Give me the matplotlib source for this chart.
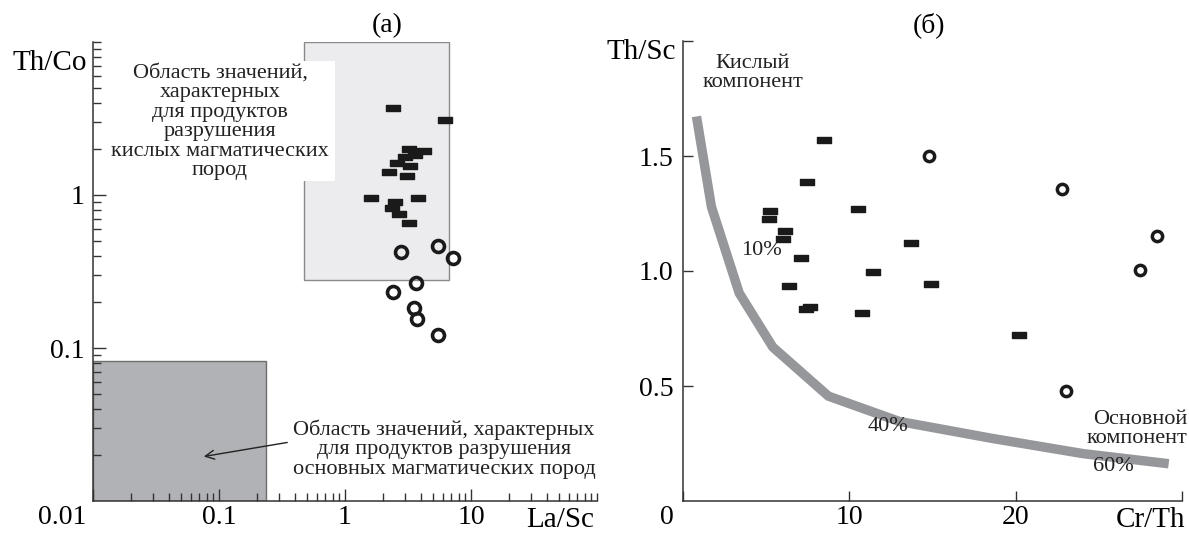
import matplotlib
matplotlib.use("Agg")
import matplotlib.pyplot as plt
import matplotlib.transforms as mtransforms
from matplotlib.path import Path
from matplotlib.patches import Rectangle
from matplotlib.ticker import NullFormatter

plt.rcParams['font.family'] = ['Liberation Serif', 'DejaVu Serif']

# ---------------- data: panel (a) ----------------
a_bar_lasc = [2.42, 6.22, 3.22, 4.26, 3.59, 2.99, 2.57, 3.28, 2.25, 3.09,
              1.60, 2.49, 3.82, 2.35, 2.70, 3.20]
a_bar_thco = [3.69, 3.09, 2.00, 1.94, 1.83, 1.76, 1.61, 1.55, 1.42, 1.34,
              0.95, 0.896, 0.95, 0.818, 0.748, 0.659]
a_circ_lasc = [2.77, 5.44, 7.16, 3.66, 2.42, 3.55, 3.71, 5.43]
a_circ_thco = [0.426, 0.466, 0.386, 0.267, 0.231, 0.182, 0.154, 0.121]
felsic_box = [0.47, 6.65, 0.279, 10.0]     # x0, x1, y0, y1
mafic_box = [0.01, 0.237, 0.01, 0.0824]
a_xticks = [0.01, 0.1, 1, 10]
a_xticklabels = ['0.01', '0.1', '1', '10']
a_yticks = [0.1, 1]
a_yticklabels = ['0.1', '1']

# ---------------- data: panel (б) ----------------
b_bar_crth = [8.45, 7.45, 5.25, 5.16, 6.13, 6.01, 10.54, 13.7, 7.12, 11.4,
              6.37, 14.9, 7.64, 7.41, 10.74, 20.2]
b_bar_thsc = [1.57, 1.385, 1.26, 1.226, 1.172, 1.137, 1.27, 1.12, 1.057, 0.996,
              0.934, 0.943, 0.844, 0.835, 0.818, 0.72]
b_circ_crth = [14.8, 22.8, 28.5, 27.5, 23.0]
b_circ_thsc = [1.499, 1.356, 1.154, 1.004, 0.478]
mix_crth = [0.81, 1.71, 3.38, 5.4, 8.74, 13.0, 18.6, 24.05, 29.2]
mix_thsc = [1.672, 1.279, 0.904, 0.669, 0.456, 0.346, 0.272, 0.206, 0.162]
b_xticks = [0, 10, 20, 30]
b_xticklabels = ['0', '10', '20', '']
b_yticks = [0.5, 1.0, 1.5, 2.0]
b_yticklabels = ['0.5', '1.0', '1.5', '']

W, H = 1189, 533
fig = plt.figure(figsize=(W / 100, H / 100), dpi=100)
axA = fig.add_axes([93 / W, (H - 501) / H, 504 / W, 459 / H])
axB = fig.add_axes([683 / W, (H - 501) / H, 499 / W, 460 / H])

dash = Path([(-1, -0.42), (1, -0.42), (1, 0.42), (-1, 0.42), (-1, -0.42)],
            [Path.MOVETO, Path.LINETO, Path.LINETO, Path.LINETO, Path.CLOSEPOLY])

ink = '#1a1a1a'
txt = '#222222'
axcol = '#333333'
TFS = 20
AFS = 16

for ax in (axA, axB):
    for s in ('top', 'right'):
        ax.spines[s].set_visible(False)
    for s in ('left', 'bottom'):
        ax.spines[s].set_linewidth(1.1)
        ax.spines[s].set_color(axcol)

# ---------- panel (a) ----------
axA.set_xscale('log')
axA.set_yscale('log')
axA.set_xlim(0.01, 100)
axA.set_ylim(0.01, 10)

axA.add_patch(Rectangle((felsic_box[0], felsic_box[2]), felsic_box[1] - felsic_box[0],
                        felsic_box[3] - felsic_box[2], facecolor='#ececef',
                        edgecolor='#8a8a8a', lw=1.0, zorder=1))
axA.add_patch(Rectangle((mafic_box[0], mafic_box[2]), mafic_box[1] - mafic_box[0],
                        mafic_box[3] - mafic_box[2], facecolor='#b1b2b6',
                        edgecolor='#6e6e6e', lw=1.0, zorder=1))
# white backing behind the upper label
axA.add_patch(Rectangle((0.015, 1.23), 0.83 - 0.015, 7.5 - 1.23, facecolor='white',
                        edgecolor='none', zorder=2))

axA.plot(a_bar_lasc, a_bar_thco, linestyle='none', marker=dash, markersize=10,
         color=ink, zorder=5)
axA.plot(a_circ_lasc, a_circ_thco, linestyle='none', marker='o', markersize=8.6,
         markerfacecolor='none', markeredgecolor=ink, markeredgewidth=2.6, zorder=5)

axA.text(0.102, 3.0, 'Область значений,\nхарактерных\nдля продуктов\nразрушения\n'
         'кислых магматических\nпород', ha='center', va='center', fontsize=AFS,
         linespacing=1.03, zorder=3, color=txt)
axA.text(6.1, 0.0219, 'Область значений, характерных\nдля продуктов разрушения\n'
         'основных магматических пород', ha='center', va='center', fontsize=AFS,
         linespacing=1.03, zorder=3, color=txt)
axA.annotate('', xy=(0.072, 0.0194), xytext=(0.366, 0.0243),
             arrowprops=dict(arrowstyle='->', color=txt, lw=1.0,
                             mutation_scale=16), zorder=4)

axA.set_xticks(a_xticks)
axA.set_xticklabels(a_xticklabels)
axA.set_yticks(a_yticks)
axA.set_yticklabels(a_yticklabels)
minx = [m * 10.0 ** e for e in (-2, -1, 0, 1) for m in range(2, 10)] + [100]
axA.set_xticks(minx, minor=True)
miny = [m * 10.0 ** e for e in (-2, -1, 0) for m in range(2, 10)] + [10]
axA.set_yticks(miny, minor=True)
axA.xaxis.set_minor_formatter(NullFormatter())
axA.yaxis.set_minor_formatter(NullFormatter())
axA.tick_params(axis='both', which='major', direction='in', length=9, width=1.0,
                color=axcol, labelsize=TFS)
axA.tick_params(axis='both', which='minor', direction='in', length=5.5, width=1.0,
                color=axcol)
axA.tick_params(axis='x', which='major', pad=3)
axA.tick_params(axis='y', which='major', pad=6)
axA.text(-0.085, 0.955, 'Th/Co', transform=axA.transAxes, ha='center', va='center',
         fontsize=TFS + 1)
axA.text(0.927, -0.041, 'La/Sc', transform=axA.transAxes, ha='center', va='center',
         fontsize=TFS + 1)
axA.text(0.583, 1.035, '(a)', transform=axA.transAxes, ha='center', va='center',
         fontsize=TFS)

# ---------- panel (б) ----------
axB.set_xlim(0, 30)
axB.set_ylim(0, 2.0)
axB.plot(mix_crth, mix_thsc, color='#96979a', lw=6.8, solid_joinstyle='miter',
         solid_capstyle='butt', zorder=2)
axB.plot(b_bar_crth, b_bar_thsc, linestyle='none', marker=dash, markersize=10,
         color=ink, zorder=5)
axB.plot(b_circ_crth, b_circ_thsc, linestyle='none', marker='o', markersize=7.4,
         markerfacecolor='none', markeredgecolor=ink, markeredgewidth=2.5, zorder=5)

axB.text(4.2, 1.862, 'Кислый\nкомпонент', ha='center', va='center', fontsize=AFS,
         linespacing=1.03, color=txt)
axB.text(30.3, 0.313, 'Основной\nкомпонент', ha='right', va='center', fontsize=AFS,
         linespacing=1.03, color=txt)
axB.text(4.69, 1.091, '10%', ha='center', va='center', fontsize=AFS, color=txt)
axB.text(12.3, 0.326, '40%', ha='center', va='center', fontsize=AFS, color=txt)
axB.text(25.85, 0.152, '60%', ha='center', va='center', fontsize=AFS, color=txt)

axB.set_xticks(b_xticks)
axB.set_xticklabels(b_xticklabels)
axB.set_yticks(b_yticks)
axB.set_yticklabels(b_yticklabels)
axB.tick_params(axis='both', which='major', direction='in', length=7, width=1.0,
                color=axcol, labelsize=TFS)
axB.tick_params(axis='x', which='major', pad=3)
axB.tick_params(axis='y', which='major', pad=7)
axB.text(-0.084, 0.976, 'Th/Sc', transform=axB.transAxes, ha='center', va='center',
         fontsize=TFS + 1)
axB.text(0.936, -0.041, 'Cr/Th', transform=axB.transAxes, ha='center', va='center',
         fontsize=TFS + 1)
axB.text(0.493, 1.035, '(б)', transform=axB.transAxes, ha='center', va='center',
         fontsize=TFS)

# shift the corner tick labels left, as in the original
for ax, dx in ((axA, -31), (axB, -16)):
    t = ax.xaxis.get_major_ticks()[0]
    t.label1.set_transform(t.label1.get_transform() +
                           mtransforms.ScaledTranslation(dx / 100, 0, fig.dpi_scale_trans))

fig.savefig('out.png', dpi=100)
